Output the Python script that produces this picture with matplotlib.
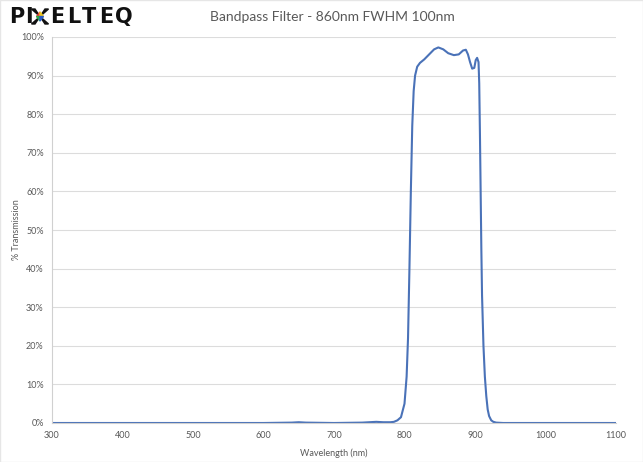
import matplotlib
matplotlib.use("Agg")
import matplotlib.pyplot as plt
from matplotlib.patches import Polygon, Rectangle

# Spectrum (wavelength in nm, transmission in %)
wavelength = [300, 600, 640, 650, 660, 700, 740, 750, 760, 770, 780, 785, 790,
              795, 800, 803, 805, 807, 809, 811, 813, 815, 818, 822, 828, 835,
              842, 848, 855, 862, 870, 877, 883, 887, 890, 893, 896, 899, 901,
              903, 905, 906, 907, 908, 909, 910, 912, 914, 916, 918, 920, 923,
              926, 930, 940, 1000, 1100]
transmission = [0, 0, 0.1, 0.2, 0.1, 0, 0.1, 0.2, 0.3, 0.2, 0.2, 0.3, 0.7,
                1.5, 5, 12, 22, 40, 60, 77, 86, 90, 92.3, 93.3, 94.2, 95.5,
                96.8, 97.3, 96.8, 95.8, 95.3, 95.5, 96.5, 96.7, 95.5, 93.5, 91.8, 92.0, 94.0,
                94.6, 93.5, 88, 75, 60, 45, 33, 20, 12, 7, 3.5, 1.8, 0.7,
                0.3, 0.1, 0, 0, 0]

x_ticks = [300, 400, 500, 600, 700, 800, 900, 1000, 1100]
y_ticks = [0, 10, 20, 30, 40, 50, 60, 70, 80, 90, 100]

plt.rcParams['font.family'] = ['Lato', 'DejaVu Sans']
gray_text = '#595959'

fig = plt.figure(figsize=(6.43, 4.62), dpi=100)
ax = fig.add_axes([52 / 643, 39 / 462, 564 / 643, 386 / 462])

ax.plot(wavelength, transmission, color='#4a72b8', linewidth=1.5)

ax.set_xlim(300, 1100)
ax.set_ylim(0, 100)
ax.set_xticks(x_ticks)
ax.set_yticks(y_ticks)
ax.set_yticklabels([f"{v}%" for v in y_ticks])
ax.tick_params(length=0, labelsize=6.5, labelcolor=gray_text, pad=6)
ax.grid(axis='y', color='#dcdcdc', linewidth=0.8)
ax.set_axisbelow(True)
for side in ['top', 'right']:
    ax.spines[side].set_visible(False)
ax.spines['left'].set_color('#d0d0d0')
ax.spines['bottom'].set_color('#d0d0d0')

ax.set_xlabel("Wavelength (nm)", fontsize=6.5, color=gray_text, labelpad=6)
ax.set_ylabel("% Transmission", fontsize=6.5, color=gray_text)
ax.yaxis.set_label_coords(-31 / 564, 0.5)

fig.text(332 / 643, 1 - 17 / 462, "Bandpass Filter - 860nm FWHM 100nm",
         ha='center', va='center', fontsize=10, color=gray_text)

# Logo: letters placed one by one to get the wide spacing
logo_letters = ["P", "I", "E", "L", "T", "E", "Q"]
logo_x = [9, 25, 50, 67, 82, 99, 115]
for ch, lx in zip(logo_letters, logo_x):
    fig.text(lx / 643, 1 - 17 / 462, ch, ha='left', va='center', fontsize=15,
             fontweight='bold', family='DejaVu Sans', color='#111111')
cx, cy, r = 40, 16.5, 7.5
arms = [
    ((cx, cy), (cx - r - 1, cy - r), (cx - r + 2.5, cy - r), '#111111'),
    ((cx, cy), (cx + r - 2.5, cy - r), (cx + r + 1, cy - r), '#111111'),
    ((cx, cy), (cx - r - 1, cy + r), (cx - r + 2.5, cy + r), '#111111'),
    ((cx, cy), (cx + r - 2.5, cy + r), (cx + r + 1, cy + r), '#111111'),
]
for p0, p1, p2, col in arms:
    pts = [(px / 643, 1 - py / 462) for px, py in (p0, p1, p2)]
    fig.patches.append(Polygon(pts, closed=True, color=col, transform=fig.transFigure))
quads = [
    [(cx, cy - 4.5), (cx - 3.5, cy), (cx, cy)],
    [(cx, cy - 4.5), (cx + 3.5, cy), (cx, cy)],
    [(cx - 3.5, cy), (cx, cy + 4.5), (cx, cy)],
    [(cx + 3.5, cy), (cx, cy + 4.5), (cx, cy)],
]
for q, col in zip(quads, ['#e23a3a', '#f2c81e', '#2aa84a', '#2c5cc5']):
    pts = [(px / 643, 1 - py / 462) for px, py in q]
    fig.patches.append(Polygon(pts, closed=True, color=col, transform=fig.transFigure))

fig.patches.append(Rectangle((0, 0), 1, 1, transform=fig.transFigure, fill=False,
                             edgecolor='#e6e6e6', linewidth=1))

fig.savefig("out.png", dpi=100)
